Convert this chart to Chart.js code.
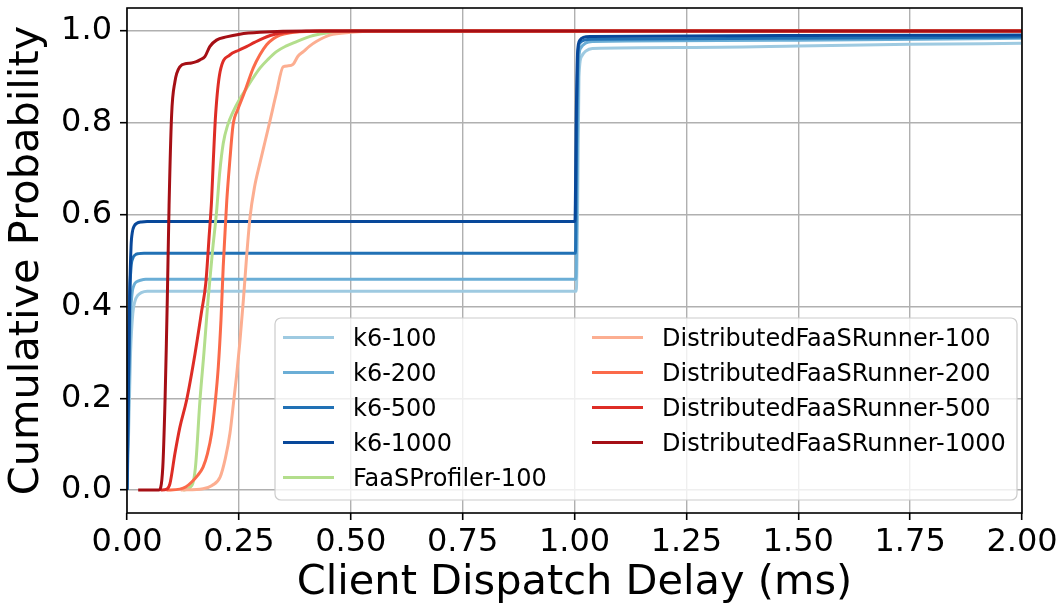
<!DOCTYPE html>
<html>
<head>
<meta charset="utf-8">
<script src="https://cdn.jsdelivr.net/npm/chart.js@4.4.1/dist/chart.umd.min.js"></script>
<style>
  html, body { margin: 0; padding: 0; background: #fff; }
  #wrap { width: 1063px; height: 608px; }
</style>
</head>
<body>
<div id="wrap"><canvas id="cdfChart" width="1063" height="608"></canvas></div>
<script>
// CDF of client dispatch delay (ms) per load generator / concurrency
const seriesLabels = [
  'k6-100', 'k6-200', 'k6-500', 'k6-1000', 'FaaSProfiler-100',
  'DistributedFaaSRunner-100', 'DistributedFaaSRunner-200',
  'DistributedFaaSRunner-500', 'DistributedFaaSRunner-1000'
];

const k6_100_delay = [0, 0.003, 0.008, 0.013, 0.018, 0.024, 0.032, 0.045, 1.004, 1.007, 1.010, 1.016, 1.025, 1.04, 1.25, 1.5, 1.75, 2.0];
const k6_100_cdf   = [0, 0.10, 0.30, 0.385, 0.412, 0.424, 0.430, 0.433, 0.433, 0.62, 0.90, 0.945, 0.956, 0.962, 0.964, 0.967, 0.971, 0.973];

const k6_200_delay = [0, 0.003, 0.007, 0.011, 0.016, 0.022, 0.030, 0.042, 1.003, 1.006, 1.009, 1.014, 1.024, 1.04, 1.5, 2.0];
const k6_200_cdf   = [0, 0.15, 0.36, 0.425, 0.447, 0.454, 0.457, 0.459, 0.459, 0.70, 0.93, 0.963, 0.973, 0.977, 0.980, 0.984];

const k6_500_delay = [0, 0.003, 0.006, 0.009, 0.013, 0.018, 0.026, 0.038, 1.002, 1.005, 1.008, 1.013, 1.022, 1.04, 1.5, 2.0];
const k6_500_cdf   = [0, 0.22, 0.42, 0.485, 0.505, 0.512, 0.515, 0.516, 0.516, 0.80, 0.955, 0.975, 0.980, 0.982, 0.984, 0.987];

const k6_1000_delay = [0, 0.003, 0.006, 0.009, 0.012, 0.016, 0.022, 0.032, 0.045, 1.001, 1.004, 1.007, 1.012, 1.02, 1.035, 1.5, 2.0];
const k6_1000_cdf   = [0, 0.2, 0.42, 0.53, 0.562, 0.575, 0.581, 0.584, 0.585, 0.585, 0.82, 0.955, 0.980, 0.986, 0.988, 0.990, 0.991];

const fp_100_delay = [0.125, 0.145, 0.153, 0.163, 0.172, 0.181, 0.191, 0.200, 0.207, 0.215, 0.225, 0.237, 0.252, 0.267, 0.282, 0.297, 0.315, 0.334, 0.355, 0.379, 0.400, 0.416, 0.45, 0.5, 2.0];
const fp_100_cdf   = [0, 0.01, 0.05, 0.195, 0.30, 0.413, 0.52, 0.605, 0.69, 0.755, 0.795, 0.824, 0.852, 0.875, 0.898, 0.919, 0.938, 0.955, 0.967, 0.977, 0.985, 0.99, 0.996, 1.0, 1.0];

const dfr_100_delay = [0.12, 0.17, 0.19, 0.208, 0.22, 0.23, 0.238, 0.245, 0.252, 0.26, 0.267, 0.275, 0.285, 0.297, 0.308, 0.319, 0.334, 0.349, 0.36, 0.371, 0.382, 0.394, 0.408, 0.423, 0.453, 0.50, 0.57, 2.0];
const dfr_100_cdf   = [0, 0.003, 0.01, 0.028, 0.07, 0.123, 0.19, 0.25, 0.32, 0.413, 0.505, 0.595, 0.66, 0.712, 0.757, 0.802, 0.865, 0.922, 0.924, 0.927, 0.945, 0.955, 0.967, 0.977, 0.991, 0.997, 1.0, 1.0];

const dfr_200_delay = [0.088, 0.118, 0.132, 0.144, 0.158, 0.17, 0.18, 0.189, 0.197, 0.204, 0.21, 0.215, 0.219, 0.223, 0.23, 0.237, 0.248, 0.26, 0.271, 0.282, 0.297, 0.312, 0.327, 0.342, 0.365, 0.386, 0.45, 2.0];
const dfr_200_cdf   = [0, 0.002, 0.007, 0.017, 0.032, 0.05, 0.08, 0.123, 0.19, 0.268, 0.37, 0.486, 0.56, 0.631, 0.72, 0.795, 0.83, 0.86, 0.89, 0.919, 0.948, 0.97, 0.983, 0.991, 0.996, 0.998, 1.0, 1.0];

const dfr_500_delay = [0.075, 0.089, 0.096, 0.107, 0.118, 0.133, 0.152, 0.167, 0.176, 0.184, 0.189, 0.193, 0.198, 0.208, 0.23, 0.25, 0.267, 0.285, 0.304, 0.32, 0.34, 0.37, 0.43, 2.0];
const dfr_500_cdf   = [0, 0.002, 0.014, 0.079, 0.136, 0.195, 0.297, 0.391, 0.45, 0.559, 0.631, 0.72, 0.817, 0.911, 0.948, 0.958, 0.966, 0.975, 0.984, 0.99, 0.995, 0.998, 1.0, 1.0];

const dfr_1000_delay = [0.025, 0.071, 0.080, 0.085, 0.088, 0.090, 0.094, 0.0997, 0.107, 0.118, 0.133, 0.144, 0.155, 0.163, 0.174, 0.185, 0.2, 0.222, 0.252, 0.297, 0.4, 2.0];
const dfr_1000_cdf   = [0, 0, 0.05, 0.195, 0.32, 0.413, 0.62, 0.817, 0.889, 0.922, 0.929, 0.93, 0.933, 0.937, 0.944, 0.966, 0.98, 0.987, 0.993, 0.997, 1.0, 1.0];

const xTicks = [0, 0.25, 0.5, 0.75, 1.0, 1.25, 1.5, 1.75, 2.0];
const yTicks = [0, 0.2, 0.4, 0.6, 0.8, 1.0];

const delays = [k6_100_delay, k6_200_delay, k6_500_delay, k6_1000_delay, fp_100_delay,
                dfr_100_delay, dfr_200_delay, dfr_500_delay, dfr_1000_delay];
const cdfs = [k6_100_cdf, k6_200_cdf, k6_500_cdf, k6_1000_cdf, fp_100_cdf,
              dfr_100_cdf, dfr_200_cdf, dfr_500_cdf, dfr_1000_cdf];

// Blues for k6, green for FaaSProfiler, Reds for DistributedFaaSRunner
const lineColors = ['#9ecae1', '#6baed6', '#2171b5', '#08489a', '#b3de8c',
                    '#fcae91', '#fb6a4a', '#de2d26', '#a50f15'];

const FONT = 'DejaVu Sans';

var datasets = seriesLabels.map(function (label, i) {
  return {
    label: label,
    data: delays[i].map(function (x, j) { return { x: x, y: cdfs[i][j] }; }),
    borderColor: lineColors[i],
    borderWidth: 3,
    pointRadius: 0,
    fill: false,
    cubicInterpolationMode: 'monotone',
    borderJoinStyle: 'round',
    order: seriesLabels.length - 1 - i // later series on top
  };
});

// black box around the plot area
const frame = {
  id: 'frame',
  afterDatasetsDraw(chart) {
    const { ctx, chartArea: a } = chart;
    ctx.save();
    ctx.strokeStyle = '#000';
    ctx.lineWidth = 1.6;
    ctx.strokeRect(a.left, a.top, a.right - a.left, a.bottom - a.top);
    ctx.restore();
  }
};

// two-column legend in the lower right corner of the plot
const boxLegend = {
  id: 'boxLegend',
  afterDraw(chart) {
    const { ctx, chartArea: a } = chart;
    const left = a.left + 148, top = a.top + 310, w = 742, h = 182;
    ctx.save();
    ctx.beginPath();
    ctx.roundRect(left, top, w, h, 6);
    ctx.fillStyle = 'rgba(255,255,255,0.8)';
    ctx.fill();
    ctx.strokeStyle = '#cccccc';
    ctx.lineWidth = 1.2;
    ctx.stroke();
    ctx.font = '24px "' + FONT + '"';
    ctx.textBaseline = 'alphabetic';
    ctx.textAlign = 'left';
    chart.data.datasets.forEach(function (ds, i) {
      const col = i < 5 ? 0 : 1;
      const row = i < 5 ? i : i - 5;
      const hx = left + (col ? 317 : 8);
      const cy = top + 19.5 + row * 35;
      ctx.strokeStyle = ds.borderColor;
      ctx.lineWidth = 3;
      ctx.beginPath();
      ctx.moveTo(hx, cy);
      ctx.lineTo(hx + 51, cy);
      ctx.stroke();
      ctx.fillStyle = '#000';
      ctx.fillText(ds.label, hx + 70, cy + 8.7);
    });
    ctx.restore();
  }
};

var ctx = document.getElementById('cdfChart').getContext('2d');

var cdfChart = new Chart(ctx, {
  type: 'line',
  data: { datasets: datasets },
  options: {
    responsive: false,
    animation: false,
    layout: { padding: { left: 0, top: 8, right: 41, bottom: 0 } },
    plugins: {
      legend: { display: false },
      tooltip: { enabled: false }
    },
    scales: {
      x: {
        type: 'linear',
        min: 0,
        max: 2,
        afterBuildTicks: function (s) { s.ticks = xTicks.map(function (v) { return { value: v }; }); },
        afterFit: function (s) { s.height = 95; s.paddingLeft = 0; s.paddingRight = 0; },
        ticks: {
          color: '#000',
          font: { family: FONT, size: 32 },
          padding: 3,
          maxRotation: 0,
          autoSkip: false,
          callback: function (v) { return v.toFixed(2); }
        },
        grid: { color: '#b0b0b0', lineWidth: 1.4, tickColor: '#000', tickLength: 7, tickWidth: 1.6 },
        border: { display: false },
        title: {
          display: true,
          text: 'Client Dispatch Delay (ms)',
          color: '#000',
          font: { family: FONT, size: 41.5 },
          padding: { top: 0, bottom: 0 }
        }
      },
      y: {
        type: 'linear',
        min: -0.05,
        max: 1.05,
        afterBuildTicks: function (s) { s.ticks = yTicks.map(function (v) { return { value: v }; }); },
        afterFit: function (s) { s.width = 127; s.paddingTop = 0; s.paddingBottom = 0; },
        ticks: {
          color: '#000',
          font: { family: FONT, size: 32 },
          padding: 8,
          callback: function (v) { return v.toFixed(1); }
        },
        grid: { color: '#b0b0b0', lineWidth: 1.4, tickColor: '#000', tickLength: 7, tickWidth: 1.6 },
        border: { display: false },
        title: {
          display: true,
          text: 'Cumulative Probability',
          color: '#000',
          font: { family: FONT, size: 41.5 },
          padding: { top: 2, bottom: 0 }
        }
      }
    }
  },
  plugins: [frame, boxLegend]
});
</script>
</body>
</html>
